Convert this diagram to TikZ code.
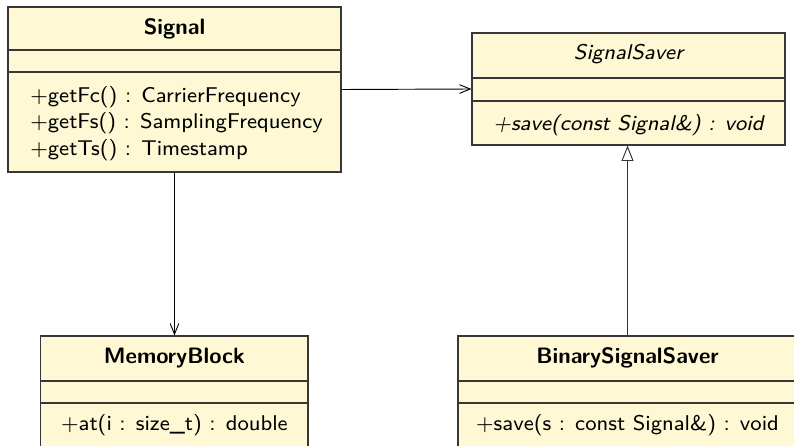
\documentclass[tikz,border=0pt]{standalone}
\usepackage{fontspec}
\usetikzlibrary{arrows.meta,fit}
\newfontfamily\lmseight{lmsans8-regular.otf}[ItalicFont=lmsans8-oblique.otf]
\definecolor{classfill}{RGB}{254,249,212}
\definecolor{classline}{RGB}{55,55,55}
\begin{document}
\begin{tikzpicture}[x=0.75pt,y=-0.75pt,
  classbox/.style={draw=classline, fill=classfill, line width=0.9pt, inner sep=0pt},
  divider/.style={draw=classline, line width=0.9pt},
  ctitle/.style={font=\fontsize{16.7}{19}\selectfont\sffamily\bfseries, inner sep=0pt, anchor=base},
  ctitleit/.style={font=\fontsize{16}{19}\selectfont\lmseight\itshape, inner sep=0pt, anchor=base},
  cmember/.style={font=\fontsize{16}{19}\selectfont\lmseight, inner sep=0pt, anchor=base},
  cmemberl/.style={font=\fontsize{16}{19}\selectfont\lmseight, inner sep=0pt, anchor=base west},
  cmemberit/.style={font=\fontsize{16}{19}\selectfont\lmseight\itshape, inner sep=0pt, anchor=base},
  assoc/.style={draw=black, line width=0.7pt, -{Straight Barb[length=8pt,width=6.5pt]}},
  inherit/.style={draw=black!80, line width=0.7pt, -{Triangle[open,length=11.5pt,width=9pt,fill=white]}}
]
\useasboundingbox (0,0) rectangle (794,446);
\clip (0,0) rectangle (794,446);
\fill[white] (0,0) rectangle (794,446);

% Signal
\node[classbox, fit={(8,7) (341,172)}] (signal) {};
\draw[divider] (8,50) -- (341,50);
\draw[divider] (8,72) -- (341,72);
\node[ctitle] (signalT) at (174.5,34) {Signal};
\node[cmemberl] (signalM1) at (30,102) {+getFc() : CarrierFrequency};
\node[cmemberl] (signalM2) at (30,128.5) {+getFs() : SamplingFrequency};
\node[cmemberl] (signalM3) at (30,155) {+getTs() : Timestamp};

% SignalSaver
\node[classbox, fit={(472,33) (785,145)}] (saver) {};
\draw[divider] (472,78) -- (785,78);
\draw[divider] (472,101) -- (785,101);
\node[ctitleit] (saverT) at (628.5,60) {SignalSaver};
\node[cmemberit] (saverM) at (628.5,130) {+save(const Signal\&) : void};

% MemoryBlock
\node[classbox, fit={(40.7,336) (308,480)}] (memory) {};
\draw[divider] (40.7,381) -- (308,381);
\draw[divider] (40.7,403) -- (308,403);
\node[ctitle] (memoryT) at (174.4,363) {MemoryBlock};
\node[cmember] (memoryM) at (174.4,430) {+at(i : size\_t) : double};

% BinarySignalSaver
\node[classbox, fit={(458,336) (797,480)}] (binary) {};
\draw[divider] (458,381) -- (797,381);
\draw[divider] (458,403) -- (797,403);
\node[ctitle] (binaryT) at (627.5,363) {BinarySignalSaver};
\node[cmember] (binaryM) at (627.5,430) {+save(s : const Signal\&) : void};

% connectors
\draw[assoc] (signal.east) -- (saver.west);
\draw[assoc] (signal.south) -- (signal.south |- memory.north);
\draw[inherit] (binary.north) -- (binary.north |- saver.south);
\end{tikzpicture}
\end{document}
